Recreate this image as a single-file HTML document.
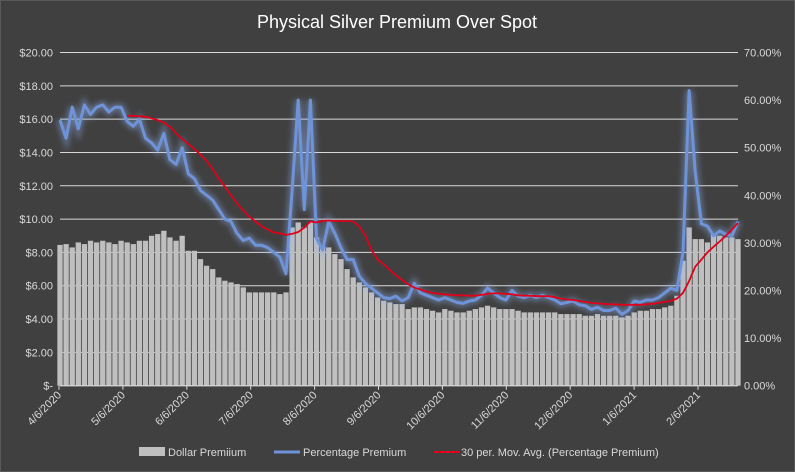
<!DOCTYPE html>
<html><head><meta charset="utf-8"><style>
html,body{margin:0;padding:0;background:#404040;}
svg{display:block;font-family:"Liberation Sans",sans-serif;}
</style></head><body>
<svg id="chart" width="795" height="472" viewBox="0 0 795 472">
<defs><filter id="glow" x="-5%" y="-5%" width="110%" height="110%"><feGaussianBlur stdDeviation="3"/></filter></defs>
<rect x="0.5" y="0.5" width="794" height="471" fill="#404040" stroke="#595959"/>
<text x="397" y="28" text-anchor="middle" fill="#ffffff" font-size="18">Physical Silver Premium Over Spot</text>
<g id="grid"></g><g id="bars"></g><g id="lines"></g><g id="axes"></g><g id="legend"></g>
</svg>
<script>
const dateLabels=["4/6/2020","5/6/2020","6/6/2020","7/6/2020","8/6/2020","9/6/2020","10/6/2020","11/6/2020","12/6/2020","1/6/2021","2/6/2021"];
const leftTicks=["$-","$2.00","$4.00","$6.00","$8.00","$10.00","$12.00","$14.00","$16.00","$18.00","$20.00"];
const rightTicks=["0.00%","10.00%","20.00%","30.00%","40.00%","50.00%","60.00%","70.00%"];
const dollarPremium=[8.45,8.5,8.3,8.6,8.5,8.7,8.6,8.7,8.6,8.5,8.7,
8.6,8.5,8.7,8.7,9.0,9.1,9.3,8.9,8.7,9.0,8.1,8.1,7.6,7.2,7.0,6.5,6.3,6.2,6.1,5.9,5.6,5.6,5.6,5.6,5.6,5.5,5.6,
9.5,9.8,9.5,9.8,8.9,8.4,8.3,7.9,7.6,7.0,6.5,6.2,5.9,5.6,5.3,5.1,5.0,4.9,4.9,4.6,4.7,4.7,
4.6,4.5,4.4,4.6,4.5,4.4,4.4,4.5,4.6,4.7,
4.8,4.7,4.6,4.6,4.6,4.5,4.4,4.4,4.4,4.4,
4.4,4.4,4.3,4.3,4.3,4.3,4.2,4.2,4.3,4.2,4.2,4.2,4.1,4.2,
4.4,4.5,4.5,4.6,4.6,4.7,4.8,5.4,7.5,9.5,8.8,8.8,8.6,9.1,9.0,8.9,8.9,8.8];
const pctPremium=[55.8,52,58.5,54,59,57,58.5,59,57.5,58.5,58.5,
55.5,54.5,56,52,51,49.5,53,47.5,46.5,50,44.5,43.5,41,40,39,37,35,34.5,32,30.5,31,29.5,29.5,29,28,27,23.5,
41,60,37,60,31,28.5,34.5,32,29,26.5,26.5,23,21.5,20.5,19.5,18.5,18.3,18.8,17.8,18.5,21.5,19.5,
19,18.5,18,18.5,18,17.5,17.3,17.8,18,19,
20.5,19.5,18.5,18,20,18.8,18.5,19,18.5,19,
18.5,18,17.2,17.5,17.8,17,16.8,16,16.5,15.8,15.8,16.3,15,15.8,
17.8,17.5,18,18,18.5,19.5,20.5,20,28,62,45,34,33.5,31.5,32.5,31.8,31.5,34.5];
const movingAvg=[null,null,null,null,null,null,null,null,null,null,null,
56.7,56.7,56.6,56.5,56.2,55.8,55.3,54.4,53,51.8,50.8,49.7,48.5,47.2,45.5,43.5,41.8,40,38.3,36.8,35.5,34.5,33.5,32.8,32.2,32,31.7,
31.9,32.3,33.2,34.5,34.3,34.6,34.7,34.6,34.6,34.6,34.5,33.5,31.5,28.5,26.5,25.5,24.3,23.2,22.2,21.3,20.6,20.2,
19.8,19.5,19.3,19.2,19.1,19.0,19.0,18.9,18.9,19.1,
19.3,19.4,19.4,19.3,19.2,19,18.9,18.9,18.8,18.8,
18.8,18.6,18.3,18.1,18,17.8,17.6,17.4,17.3,17.2,17.1,17.1,17,17,
17,17,17.1,17.2,17.4,17.6,17.8,18.3,19.5,22,25,26.5,28,29.2,30.3,31.5,32.8,34.2];

const NS="http://www.w3.org/2000/svg";
const X0=60,X1=738,Y0=385.7,Y1=52.5,N=pctPremium.length;
const xScale=i=>X0+i*(X1-X0)/(N-1);
const yDollar=v=>Y0-v/20*(Y0-Y1);
const yPct=v=>Y0-v/70*(Y0-Y1);
function mk(tag,attrs,parent){const e=document.createElementNS(NS,tag);for(const k in attrs)e.setAttribute(k,attrs[k]);parent.appendChild(e);return e;}
const grid=document.getElementById('grid'),bars=document.getElementById('bars'),lines=document.getElementById('lines'),axes=document.getElementById('axes'),legend=document.getElementById('legend');
leftTicks.forEach((t,i)=>{const y=yDollar(i*2);
 const g=mk('line',{x1:X0,x2:X1,y1:y,y2:y,stroke:'#d9d9d9','stroke-width':1},grid);
 
 
 const tx=mk('text',{x:53,y:y+4,'text-anchor':'end',fill:'#d9d9d9','font-size':11},axes);tx.textContent=t;
 
 });
rightTicks.forEach((t,i)=>{const y=yPct(i*10);
 const tx=mk('text',{x:744,y:y+4,'text-anchor':'start',fill:'#d9d9d9','font-size':11},axes);tx.textContent=t;
 
 });
const bw=(X1-X0)/(N-1);
dollarPremium.forEach((v,i)=>{const x=xScale(i);
 const r=mk('rect',{x:x-bw/2+0.4,y:yDollar(v),width:bw-0.8,height:Y0-yDollar(v),fill:'#bfbfbf'},bars);
 
 });
const pts=pctPremium.map((v,i)=>xScale(i).toFixed(1)+','+yPct(v).toFixed(1)).join(' ');
const glow=mk('polyline',{points:pts,fill:'none',stroke:'#8fb0f0','stroke-width':7,opacity:0.45,filter:'url(#glow)'},lines);


const pl=mk('polyline',{points:pts,fill:'none',stroke:'#6f93d8','stroke-width':3,'stroke-linejoin':'round'},lines);


const mpts=movingAvg.map((v,i)=>v==null?null:xScale(i).toFixed(1)+','+yPct(v).toFixed(1)).filter(p=>p).join(' ');
const ml=mk('polyline',{points:mpts,fill:'none',stroke:'#e0001b','stroke-width':1.8},lines);


const ax=mk('line',{x1:X0,x2:X1,y1:Y0,y2:Y0,stroke:'#d9d9d9','stroke-width':1},axes);


dateLabels.forEach((t,i)=>{const x=59+i*63.9;
 const tk=mk('line',{x1:x,x2:x,y1:Y0,y2:Y0+4,stroke:'#d9d9d9'},axes);
 
 
 const tx=mk('text',{x:x+3,y:Y0+10,'text-anchor':'end',fill:'#d9d9d9','font-size':11,transform:`rotate(-45 ${x+3} ${Y0+10})`},axes);tx.textContent=t;
 
 });
// legend
const l1=mk('rect',{x:139,y:447,width:26,height:9,fill:'#bfbfbf'},legend);


const t1=mk('text',{x:168,y:456,fill:'#d9d9d9','font-size':11},legend);t1.textContent='Dollar Premiium';


const l2=mk('line',{x1:274,x2:300,y1:452,y2:452,stroke:'#6f93d8','stroke-width':3},legend);


const t2=mk('text',{x:303,y:456,fill:'#d9d9d9','font-size':11},legend);t2.textContent='Percentage Premium';


const l3=mk('line',{x1:434,x2:460,y1:452,y2:452,stroke:'#e0001b','stroke-width':2},legend);


const t3=mk('text',{x:461,y:456,fill:'#d9d9d9','font-size':11},legend);t3.textContent='30 per. Mov. Avg. (Percentage Premium)';


</script>
</body></html>
